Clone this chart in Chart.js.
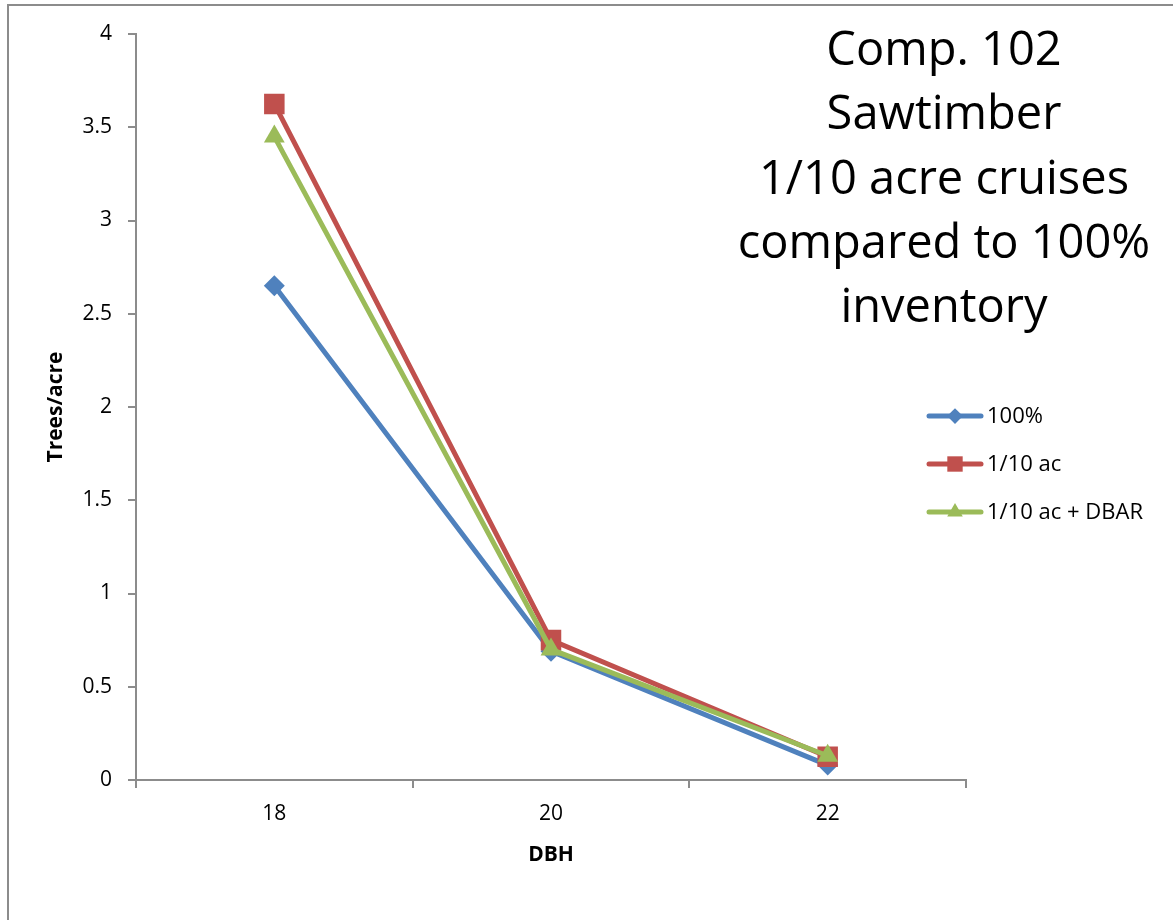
<!DOCTYPE html>
<html lang="en">
<head>
<meta charset="utf-8"/>
<title>Comp. 102 Sawtimber</title>
<script src="https://cdn.jsdelivr.net/npm/chart.js"></script>
<style>
  html, body { margin: 0; padding: 0; background: #fff; }
  #wrap { width: 1173px; height: 920px; }
</style>
</head>
<body>
<div id="wrap"><canvas id="chart" width="1173" height="920"></canvas></div>
<script>
  // data
  const dbh = ["18", "20", "22"];
  const full = [2.65, 0.69, 0.08];
  const tenth = [3.625, 0.75, 0.125];
  const tenthDbar = [3.45, 0.70, 0.13];
  const seriesNames = ["100%", "1/10 ac", "1/10 ac + DBAR"];
  const titleLines = ["Comp. 102", "Sawtimber", "1/10 acre cruises", "compared to 100%", "inventory"];

  const FONT = "'Open Sans', sans-serif";
  const axisGray = "#8c8c8c";

  // frame + title + legend
  const extras = {
    id: "extras",
    afterDraw(chart) {
      const ctx = chart.ctx;
      ctx.save();
      ctx.strokeStyle = axisGray;
      ctx.lineWidth = 2;
      ctx.beginPath();
      ctx.moveTo(8, 920);
      ctx.lineTo(8, 5);
      ctx.lineTo(1173, 5);
      ctx.stroke();

      ctx.fillStyle = "#000";
      ctx.font = "47px " + FONT;
      ctx.textAlign = "center";
      ctx.textBaseline = "alphabetic";
      titleLines.forEach((t, i) => ctx.fillText(t, 944, 65 + i * 64.3));

      const rows = [416, 464, 512];
      ctx.font = "22px " + FONT;
      ctx.textAlign = "left";
      ctx.textBaseline = "middle";
      chart.data.datasets.forEach((ds, i) => {
        const y = rows[i];
        ctx.strokeStyle = ds.borderColor;
        ctx.lineWidth = 5;
        ctx.lineCap = "round";
        ctx.beginPath();
        ctx.moveTo(929, y);
        ctx.lineTo(981, y);
        ctx.stroke();
        ctx.fillStyle = ds.backgroundColor;
        Chart.helpers.drawPoint(ctx, { pointStyle: ds.pointStyle, radius: ds.pointRadius * 0.75, rotation: 0, borderWidth: 0 }, 955, y);
        ctx.fillStyle = "#000";
        ctx.fillText(ds.label, 987, y + 1);
      });
      ctx.restore();
    }
  };

  const mk = (label, data, color, style, r, order) => ({
    label, data, order,
    borderColor: color,
    backgroundColor: color,
    pointBackgroundColor: color,
    pointBorderColor: color,
    pointBorderWidth: 0,
    pointStyle: style,
    pointRadius: r,
    borderWidth: 5,
    tension: 0
  });

  new Chart(document.getElementById("chart").getContext("2d"), {
    type: "line",
    data: {
      labels: dbh,
      datasets: [
        mk(seriesNames[0], full, "#4f81bd", "rectRot", 10.5, 3),
        mk(seriesNames[1], tenth, "#c0504d", "rect", 14.5, 2),
        mk(seriesNames[2], tenthDbar, "#9bbb59", "triangle", 12, 1)
      ]
    },
    options: {
      responsive: false,
      animation: false,
      layout: { padding: { left: 40, top: 34, right: 207, bottom: 45 } },
      plugins: { legend: { display: false }, tooltip: { enabled: false } },
      scales: {
        x: {
          offset: true,
          grid: { offset: true, drawOnChartArea: false, color: axisGray, lineWidth: 2, tickLength: 8 },
          border: { color: axisGray, width: 2 },
          ticks: { color: "#000", font: { family: FONT, size: 21 }, padding: 13 },
          title: { display: true, text: "DBH", color: "#000", font: { family: FONT, size: 21, weight: "bold" }, padding: { top: 0, bottom: 7 } },
          afterFit(s) { s.height = 95; }
        },
        y: {
          min: 0, max: 4,
          ticks: { stepSize: 0.5, color: "#000", font: { family: FONT, size: 21 }, padding: 16, callback: v => String(v) },
          grid: { drawOnChartArea: false, color: axisGray, lineWidth: 2, tickLength: 8 },
          border: { color: axisGray, width: 2 },
          title: { display: true, text: "Trees/acre", color: "#000", font: { family: FONT, size: 21, weight: "bold" }, padding: { top: 3, bottom: 0 } },
          afterFit(s) { s.width = 96; }
        }
      }
    },
    plugins: [extras]
  });
</script>
</body>
</html>
